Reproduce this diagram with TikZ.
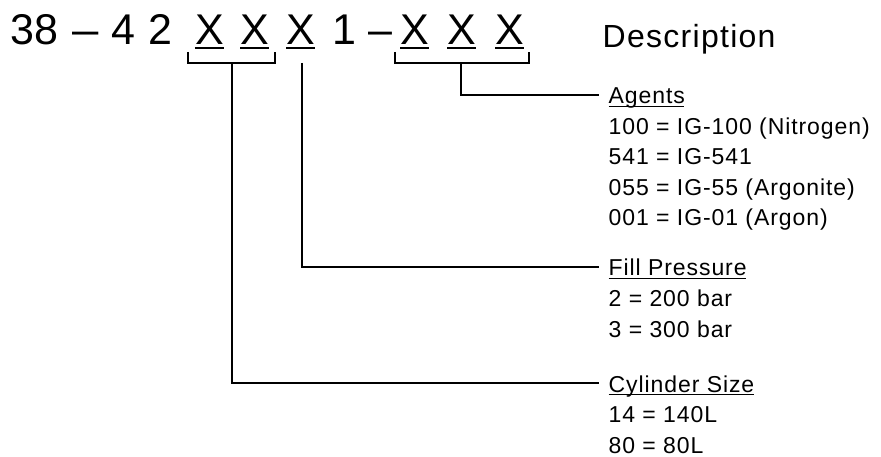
\documentclass[tikz,border=0pt]{standalone}
\usepackage{fontspec}
\setmainfont{Liberation Sans}
\newfontfamily\spaced{Liberation Sans}[LetterSpace=4]
\usetikzlibrary{calc}
\begin{document}
\begin{tikzpicture}[x=1pt,y=-1pt,
  big/.style={font=\fontsize{43}{43}\selectfont, inner sep=0pt, anchor=base west},
  head/.style={font=\spaced\fontsize{32}{32}\selectfont, inner sep=0pt, anchor=base west},
  txt/.style={font=\spaced\fontsize{23}{23}\selectfont, inner sep=0pt, anchor=base west},
  uline/.style={line width=2.6pt},
  hline/.style={line width=1.1pt},
  brk/.style={line width=1.3pt},
  lead/.style={line width=1.5pt}]
\useasboundingbox (0,0) rectangle (881,457);

% part number pattern
\node[big] (n38) at (10.2,44.5) {38};
\node[big, xscale=1.1] (da)  at (72,44.5) {–};
\node[big] (n4)  at (111.4,44.5) {4};
\node[big] (n2)  at (148.7,44.5) {2};
\node[big] (x1)  at (194.8,44.5) {X};
\node[big] (x2)  at (240,44.5)   {X};
\node[big] (x3)  at (286,44.5)   {X};
\node[big] (n1)  at (332,44.5)   {1};
\node[big] (db)  at (368,44.5)   {–};
\node[big] (x4)  at (400,44.5)   {X};
\node[big] (x5)  at (447,44.5)   {X};
\node[big] (x6)  at (495,44.5)   {X};
\node[head] (desc) at (602.5,48) {Description};

% underlines of the variable positions
\foreach \n in {x1,x2,x3,x4,x5,x6}
  \draw[uline] ($(\n.base west)+(0,3.5)$) -- ($(\n.base west)+(29,3.5)$);

% brackets grouping the positions
\coordinate (bl1) at (188,52);
\coordinate (br1) at (275,52);
\coordinate (bl2) at (395,52);
\coordinate (br2) at (529,52);
\draw[brk] (bl1) -- ++(0,11) -| (br1);
\draw[brk] (bl2) -- ++(0,11) -| (br2);

% stems below the brackets
\coordinate (sCyl)  at (232,63);
\coordinate (sFill) at (302,63);
\coordinate (sAg)   at (461,63);

% leader ends beside the descriptions
\coordinate (eAg)   at (599,95);
\coordinate (eFill) at (599,267);
\coordinate (eCyl)  at (599,383);

\draw[lead] (sAg)   |- (eAg);
\draw[lead] (sFill) |- (eFill);
\draw[lead] (sCyl)  |- (eCyl);

% agents
\node[txt] (ag0) at ([shift={(9.5,9)}]eAg) {Agents};
\node[txt] (ag1) at ([shift={(0,30.5)}]ag0.base west) {100 = IG-100 (Nitrogen)};
\node[txt] (ag2) at ([shift={(0,30.5)}]ag1.base west) {541 = IG-541};
\node[txt] (ag3) at ([shift={(0,30.5)}]ag2.base west) {055 = IG-55 (Argonite)};
\node[txt] (ag4) at ([shift={(0,30.5)}]ag3.base west) {001 = IG-01 (Argon)};

% fill pressure
\node[txt] (fp0) at ([shift={(9.5,9)}]eFill) {Fill Pressure};
\node[txt] (fp1) at ([shift={(0,30.5)}]fp0.base west) {2 = 200 bar};
\node[txt] (fp2) at ([shift={(0,30.5)}]fp1.base west) {3 = 300 bar};

% cylinder size
\node[txt] (cs0) at ([shift={(9.5,9)}]eCyl) {Cylinder Size};
\node[txt] (cs1) at ([shift={(0,30.5)}]cs0.base west) {14 = 140L};
\node[txt] (cs2) at ([shift={(0,30.5)}]cs1.base west) {80 = 80L};

% underlined group headings
\foreach \n in {ag0,fp0,cs0}
  \draw[hline] ($(\n.base west)+(0,2.6)$) -- ($(\n.base east)+(-1,2.6)$);
\end{tikzpicture}
\end{document}
